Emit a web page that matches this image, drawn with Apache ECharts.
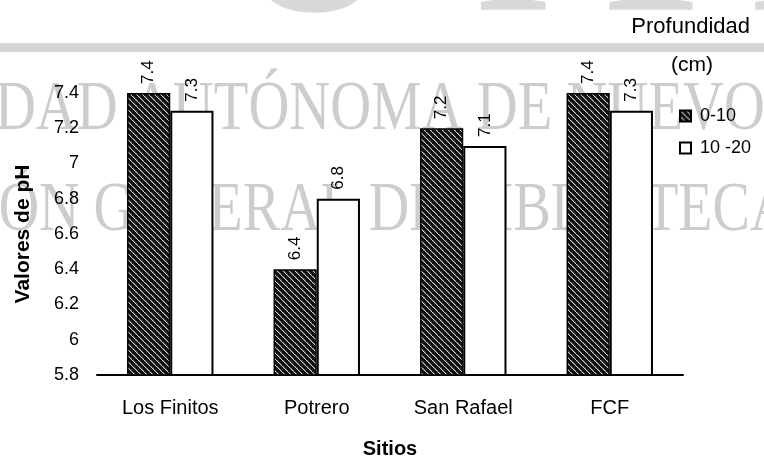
<!DOCTYPE html>
<html>
<head>
<meta charset="utf-8">
<script src="https://cdn.jsdelivr.net/npm/echarts@6/dist/echarts.min.js"></script>
<style>
html,body{margin:0;padding:0;background:#fff;}
#chart{width:764px;height:459px;}
</style>
</head>
<body>
<div id="chart"></div>
<script>
// ---- data ----
const categories = ['Los Finitos', 'Potrero', 'San Rafael', 'FCF'];
const seriesNames = ['0-10', '10 -20'];
const valuesDepth0to10 = [7.4, 6.4, 7.2, 7.4];
const valuesDepth10to20 = [7.3, 6.8, 7.1, 7.3];
const yMin = 5.8, yMax = 7.4, yStep = 0.2;
const xAxisTitle = 'Sitios';
const yAxisTitle = 'Valores de pH';
const legendTitle = ['Profundidad', '(cm)'];
const watermarkRows = ['IDAD AUTÓNOMA DE NUEVO LEÓN', 'IÓN GENERAL DE BIBLIOTECAS'];
const watermarkLogo = ['U', 'A', 'N'];

// ---- hatch pattern for dark bars ----
function makePattern() {
  const c = document.createElement('canvas');
  c.width = 6; c.height = 6;
  const g = c.getContext('2d');
  g.fillStyle = '#111';
  g.fillRect(0, 0, 6, 6);
  g.fillStyle = '#d0d0d0';
  for (let i = 0; i < 6; i++) g.fillRect(i, i, 1, 1);
  g.fillStyle = '#555';
  for (let i = 0; i < 5; i++) g.fillRect(i + 1, i, 1, 1);
  return c;
}
const pattern = makePattern();

const FONT = 'Liberation Sans, Arial, sans-serif';
const SERIF = 'Liberation Serif, Times New Roman, serif';
const WM = '#cdcdcd';

const chart = echarts.init(document.getElementById('chart'), null, {renderer: 'canvas'});

const graphics = [
  {type: 'rect', z: -10, shape: {x: 0, y: 43, width: 764, height: 9}, style: {fill: '#d6d6d6'}},
  {type: 'text', z: -10, x: 222, y: -69, scaleX: 0.85, style: {text: watermarkLogo[0], font: '300px ' + SERIF, fill: '#d8d8d8', verticalAlign: 'middle', align: 'left'}},
  {type: 'text', z: -10, x: 478, y: -69, scaleX: 1.0, style: {text: watermarkLogo[1], font: '300px ' + SERIF, fill: '#d8d8d8', verticalAlign: 'middle', align: 'left'}},
  {type: 'text', z: -10, x: 748, y: -69, scaleX: 0.85, style: {text: watermarkLogo[2], font: '300px ' + SERIF, fill: '#d8d8d8', verticalAlign: 'middle', align: 'left'}},
  {type: 'text', z: -10, x: -24, y: 111, scaleX: 0.81, style: {text: watermarkRows[0], font: '70px ' + SERIF, fill: WM, verticalAlign: 'middle', align: 'left'}},
  {type: 'text', z: -10, x: -20, y: 212, scaleX: 0.8, style: {text: watermarkRows[1], font: '70px ' + SERIF, fill: WM, verticalAlign: 'middle', align: 'left'}}
];

const option = {
  backgroundColor: '#fff',
  animation: false,
  graphic: graphics,
  title: [
    {text: legendTitle[0], right: 9, top: 11, textStyle: {fontFamily: FONT, fontSize: 22, fontWeight: 'normal', color: '#000'}},
    {text: legendTitle[1], left: 666, top: 50, textStyle: {fontFamily: FONT, fontSize: 21, fontWeight: 'normal', color: '#000'}}
  ],
  legend: {
    orient: 'vertical',
    left: 674,
    top: 102,
    icon: 'rect',
    itemWidth: 11,
    itemHeight: 11,
    itemGap: 14,
    data: seriesNames,
    textStyle: {fontFamily: FONT, fontSize: 18, color: '#000', padding: [0, 0, 0, 4]}
  },
  grid: {left: 97, right: 81, top: 93, bottom: 84, containLabel: false, outerBoundsMode: 'none'},
  xAxis: {
    type: 'category',
    data: categories,
    name: xAxisTitle,
    nameLocation: 'middle',
    nameGap: 64,
    nameTextStyle: {fontFamily: FONT, fontSize: 20, fontWeight: 'bold', color: '#000'},
    axisLine: {show: true, lineStyle: {color: '#000', width: 2}},
    axisTick: {show: false},
    axisLabel: {fontFamily: FONT, fontSize: 20, color: '#000', margin: 23},
    splitLine: {show: false}
  },
  yAxis: {
    type: 'value',
    min: yMin,
    max: yMax,
    interval: yStep,
    name: yAxisTitle,
    nameLocation: 'middle',
    nameGap: 63,
    nameTextStyle: {fontFamily: FONT, fontSize: 21, fontWeight: 'bold', color: '#000'},
    axisLine: {show: false},
    axisTick: {show: false},
    splitLine: {show: false},
    axisLabel: {
      fontFamily: FONT, fontSize: 18, color: '#000', margin: 18,
      formatter: function (v) { return String(parseFloat(v.toFixed(1))); }
    }
  },
  series: [
    {
      name: seriesNames[0],
      type: 'bar',
      data: valuesDepth0to10,
      barGap: '0%',
      barCategoryGap: '41%',
      itemStyle: {color: {image: pattern, repeat: 'repeat'}, borderColor: '#000', borderWidth: 1.5},
      label: {
        show: true, position: 'top', rotate: 90, align: 'left', verticalAlign: 'middle', distance: 9,
        fontFamily: FONT, fontSize: 17, color: '#000',
        formatter: function (p) { return p.value.toFixed(1); }
      }
    },
    {
      name: seriesNames[1],
      type: 'bar',
      data: valuesDepth10to20,
      barGap: '0%',
      barCategoryGap: '41%',
      itemStyle: {color: '#fff', borderColor: '#000', borderWidth: 2},
      label: {
        show: true, position: 'top', rotate: 90, align: 'left', verticalAlign: 'middle', distance: 9,
        fontFamily: FONT, fontSize: 17, color: '#000',
        formatter: function (p) { return p.value.toFixed(1); }
      }
    }
  ]
};
chart.setOption(option);
</script>
</body>
</html>
